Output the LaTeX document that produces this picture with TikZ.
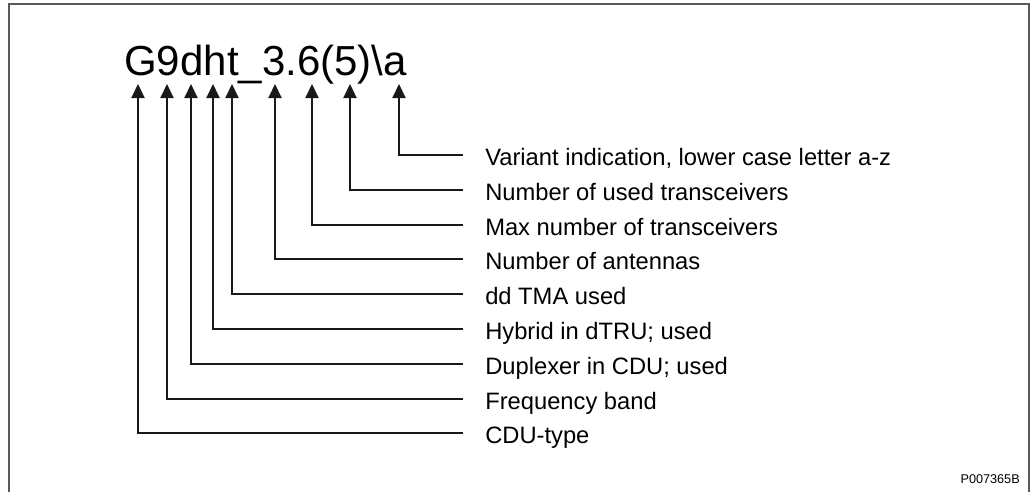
\documentclass[tikz,border=0pt]{standalone}
\usepackage{fontspec}
\setmainfont{Liberation Sans}
\usetikzlibrary{positioning,arrows.meta}

\begin{document}
\begin{tikzpicture}[
  x=0.75pt, y=-0.75pt,
  code/.style={font=\fontsize{31.5}{36}\selectfont, inner sep=0pt, anchor=base west},
  field/.style={font=\fontsize{17.8}{20}\selectfont, anchor=west, inner xsep=16.5pt, inner ysep=0pt, text height=15pt, text depth=0pt},
  tag/.style={font=\fontsize{9.5}{11}\selectfont, inner sep=0pt, anchor=base east},
  link/.style={-{Triangle[width=9.75pt,length=10.5pt]}, line width=1.5pt, black!90},
  frame/.style={draw=black!65, line width=0.8pt}
]
\useasboundingbox (0,0) rectangle (1030,492);

% ================= FRAME =================
\draw[frame] (9,492) -- (9,4) -- (1029,4) -- (1029,492);

% ================= CODE STRING =================
\node[code] (code) at (124,75) {G9dht\_3.6(5)\textbackslash a};

% arrow tips under the characters
\coordinate (tG)  at (138,84);
\coordinate (t9)  at (167,84);
\coordinate (td)  at (191,84);
\coordinate (th)  at (213,84);
\coordinate (tt)  at (232,84);
\coordinate (t3)  at (275,84);
\coordinate (t6)  at (312,84);
\coordinate (t5)  at (350,84);
\coordinate (ta)  at (399,84);

% ================= FIELDS =================
\node[field] (fvar)  at (463,155) {Variant indication, lower case letter a-z};
\node[field] (fused) at (463,190) {Number of used transceivers};
\node[field] (fmax)  at (463,225) {Max number of transceivers};
\node[field] (fant)  at (463,259) {Number of antennas};
\node[field] (ftma)  at (463,294) {dd TMA used};
\node[field] (fhyb)  at (463,329) {Hybrid in dTRU; used};
\node[field] (fdup)  at (463,364) {Duplexer in CDU; used};
\node[field] (ffreq) at (463,399) {Frequency band};
\node[field] (fcdu)  at (463,433) {CDU-type};

% ================= ARROWS =================
\draw[link] (fvar.west)  -| (ta);
\draw[link] (fused.west) -| (t5);
\draw[link] (fmax.west)  -| (t6);
\draw[link] (fant.west)  -| (t3);
\draw[link] (ftma.west)  -| (tt);
\draw[link] (fhyb.west)  -| (th);
\draw[link] (fdup.west)  -| (td);
\draw[link] (ffreq.west) -| (t9);
\draw[link] (fcdu.west)  -| (tG);

% ================= FIGURE ID =================
\node[tag] (pid) at (1020,483) {P007365B};

\end{tikzpicture}
\end{document}
